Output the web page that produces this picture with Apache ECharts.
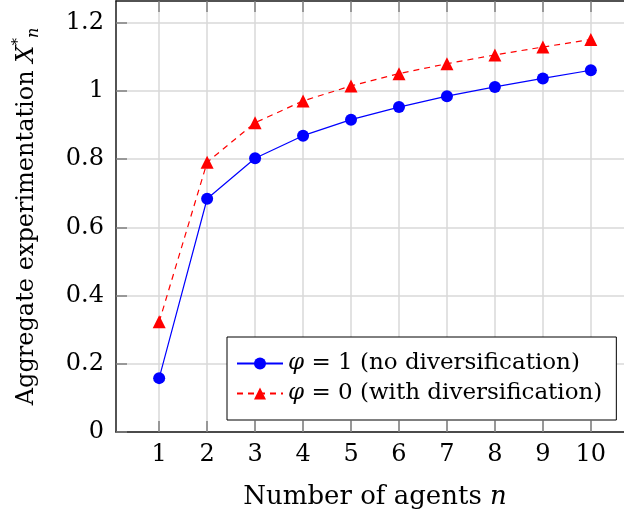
<!DOCTYPE html>
<html>
<head>
<meta charset="utf-8">
<script src="https://cdn.jsdelivr.net/npm/echarts@6/dist/echarts.min.js"></script>
<style>
    html, body { margin: 0; padding: 0; background: #fff; }
    #chart { width: 624px; height: 516px; }
</style>
</head>
<body>
<div id="chart"></div>

<script>
    // number of agents n
    var agents = [1, 2, 3, 4, 5, 6, 7, 8, 9, 10];
    // aggregate experimentation X*_n
    var noDiversification = [0.158, 0.684, 0.803, 0.869, 0.916, 0.953, 0.985, 1.012, 1.037, 1.061];
    var withDiversification = [0.323, 0.791, 0.907, 0.971, 1.015, 1.051, 1.080, 1.106, 1.129, 1.151];
    var seriesNames = ['φ = 1 (no diversification)', 'φ = 0 (with diversification)'];
    var yTicks = [0, 0.2, 0.4, 0.6, 0.8, 1, 1.2];

    var font = 'DejaVu Serif';

    function pairs(xs, ys) {
        return xs.map(function (x, i) { return [x, ys[i]]; });
    }

    var myChart = echarts.init(document.getElementById('chart'));

    var option = {
        animation: false,
        textStyle: { fontFamily: font, color: '#000' },
        grid: { left: 116, top: 1, right: -10, bottom: 84, outerBoundsMode: 'none', containLabel: false },
        legend: {
            orient: 'vertical',
            left: 227,
            top: 337,
            selectedMode: false,
            backgroundColor: '#fff',
            borderColor: '#000',
            borderWidth: 1,
            padding: [15, 14, 15, 9],
            itemGap: 7,
            itemWidth: 46,
            itemHeight: 15,
            data: seriesNames,
            formatter: function (name) {
                return '{i|φ}' + name.slice(1);
            },
            textStyle: {
                fontFamily: font,
                fontSize: 23,
                color: '#000',
                rich: {
                    i: { fontFamily: font, fontStyle: 'italic', fontSize: 23 }
                }
            }
        },
        xAxis: [{
            type: 'value',
            min: 0.1,
            max: 10.9,
            name: 'Number of agents {i|n}',
            nameLocation: 'middle',
            nameGap: 52,
            nameTextStyle: {
                fontFamily: font,
                fontSize: 26,
                color: '#000',
                rich: { i: { fontFamily: font, fontStyle: 'italic', fontSize: 26 } }
            },
            axisLine: { show: true, lineStyle: { color: '#1a1a1a', width: 1.5 } },
            axisTick: { show: true, inside: true, length: 11, customValues: agents, lineStyle: { color: '#808080', width: 1.5 } },
            axisLabel: { customValues: agents, fontSize: 24, color: '#000', margin: 11, fontFamily: font },
            splitLine: { show: true, lineStyle: { color: '#d8d8d8', width: 1.5 } }
        }, {
            type: 'value',
            position: 'top',
            min: 0.1,
            max: 10.9,
            axisLine: { show: true, onZero: false, lineStyle: { color: '#1a1a1a', width: 1.5 } },
            axisTick: { show: true, inside: true, length: 11, customValues: agents, lineStyle: { color: '#808080', width: 1.5 } },
            axisLabel: { show: false },
            splitLine: { show: false }
        }],
        yAxis: {
            type: 'value',
            min: 0,
            max: 1.264,
            name: 'Aggregate experimentation {x|X}{sup|*}{sub|n}',
            nameLocation: 'middle',
            nameGap: 74,
            nameTextStyle: {
                fontFamily: font,
                fontSize: 24,
                color: '#000',
                rich: {
                    x: { fontFamily: font, fontStyle: 'italic', fontSize: 24, lineHeight: 31 },
                    sup: { fontFamily: font, fontSize: 15, verticalAlign: 'top', lineHeight: 31 },
                    sub: { fontFamily: font, fontStyle: 'italic', fontSize: 16, verticalAlign: 'bottom', lineHeight: 31 }
                }
            },
            axisLine: { show: true, lineStyle: { color: '#1a1a1a', width: 1.5 } },
            axisTick: { show: true, inside: true, length: 11, customValues: yTicks, lineStyle: { color: '#808080', width: 1.5 } },
            axisLabel: { customValues: yTicks, fontSize: 24, color: '#000', margin: 12, fontFamily: font },
            splitLine: { show: true, lineStyle: { color: '#d8d8d8', width: 1.5 } }
        },
        series: [{
            name: seriesNames[0],
            type: 'line',
            data: pairs(agents, noDiversification),
            symbol: 'circle',
            symbolSize: 12,
            itemStyle: { color: '#0000ff' },
            lineStyle: { color: '#0000ff', width: 1.2 },
            z: 3
        }, {
            name: seriesNames[1],
            type: 'line',
            data: pairs(agents, withDiversification),
            symbol: 'triangle',
            symbolSize: 13,
            itemStyle: { color: '#ff0000' },
            lineStyle: { color: '#ff0000', width: 1.2, type: [6, 5] },
            z: 3
        }]
    };

    myChart.setOption(option);
</script>
</body>
</html>
